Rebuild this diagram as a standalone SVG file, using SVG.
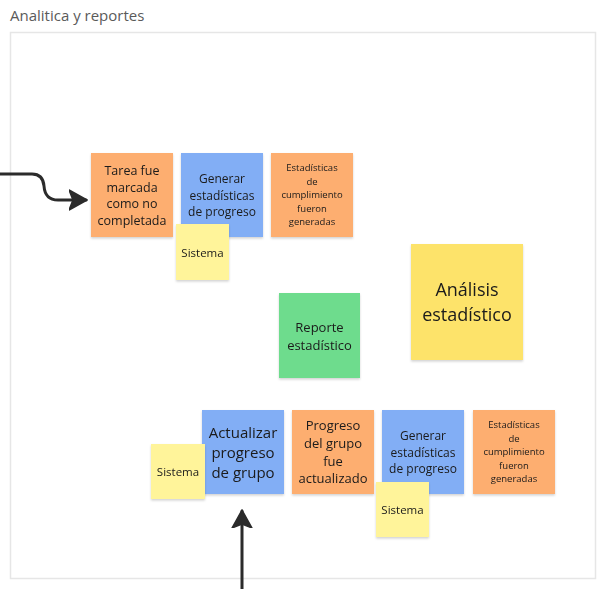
<svg xmlns="http://www.w3.org/2000/svg" width="608" height="589" viewBox="0 0 608 589">
<defs>
<filter id="sh" x="-10%" y="-10%" width="120%" height="125%">
<feDropShadow dx="0" dy="1.5" stdDeviation="1.2" flood-color="#000" flood-opacity="0.18"/>
</filter>
<marker id="ah" viewBox="0 0 20 22" refX="17" refY="11" markerWidth="20" markerHeight="22" orient="auto" markerUnits="userSpaceOnUse">
<path d="M0,1 L18,11 L0,21 L4,11 Z" fill="#2b2b2b" stroke="#2b2b2b" stroke-width="1.5" stroke-linejoin="round"/>
</marker>
<style>
text{font-family:"Open Sans","Noto Sans","Liberation Sans",sans-serif;fill:#1a1a1a;text-anchor:middle;dominant-baseline:central}
.or{fill:#FDAE70}
.bl{fill:#82AEF5}
.ys{fill:#FFF49A}
.yb{fill:#FDE36A}
.gr{fill:#6EDC8D}
.n{filter:url(#sh)}
.conn path{fill:none;stroke:#2b2b2b;stroke-width:3;stroke-linecap:round}
</style>
</defs>
<rect x="0" y="0" width="608" height="589" fill="#fff"/>
<text x="10" y="15" style="text-anchor:start;font-size:15px;fill:#5a5a5a">Analitica y reportes</text>
<rect x="10.5" y="32.5" width="585" height="546" fill="#fff" stroke="#e6e6e6" stroke-width="1.5"/>

<g id="n1" class="n"><rect class="or" x="91" y="153" width="82" height="84"/>
<text font-size="12.5"><tspan x="132" y="170">Tarea fue</tspan><tspan x="132" y="186.5">marcada</tspan><tspan x="132" y="203">como no</tspan><tspan x="132" y="219.5">completada</tspan></text></g>

<g id="n2" class="n"><rect class="bl" x="181" y="153" width="82" height="84"/>
<text font-size="12"><tspan x="222" y="178">Generar</tspan><tspan x="222" y="194.5">estadísticas</tspan><tspan x="222" y="211">de progreso</tspan></text></g>

<g id="n3" class="n"><rect class="or" x="271" y="153" width="82" height="84"/>
<text font-size="9.5"><tspan x="312" y="167">Estadísticas</tspan><tspan x="312" y="180.5">de</tspan><tspan x="312" y="194">cumplimiento</tspan><tspan x="312" y="207.5">fueron</tspan><tspan x="312" y="221">generadas</tspan></text></g>

<g id="n4" class="n"><rect class="ys" x="176" y="224" width="53" height="56"/>
<text x="202.5" y="252" font-size="11.5">Sistema</text></g>

<g id="n5" class="n"><rect class="gr" x="279" y="293" width="81" height="85"/>
<text font-size="13"><tspan x="319.5" y="327">Reporte</tspan><tspan x="319.5" y="344.5">estadístico</tspan></text></g>

<g id="n6" class="n"><rect class="yb" x="411" y="244" width="112" height="116"/>
<text font-size="18"><tspan x="467" y="289">Análisis</tspan><tspan x="467" y="314">estadístico</tspan></text></g>

<g id="n7" class="n"><rect class="bl" x="202" y="410" width="82" height="84"/>
<text font-size="15"><tspan x="243" y="432">Actualizar</tspan><tspan x="243" y="452">progreso</tspan><tspan x="243" y="472">de grupo</tspan></text></g>

<g id="n8" class="n"><rect class="or" x="292" y="410" width="82" height="84"/>
<text font-size="13"><tspan x="333" y="425">Progreso</tspan><tspan x="333" y="443">del grupo</tspan><tspan x="333" y="460.5">fue</tspan><tspan x="333" y="478">actualizado</tspan></text></g>

<g id="n9" class="n"><rect class="bl" x="382" y="410" width="82" height="84"/>
<text font-size="12"><tspan x="423" y="435">Generar</tspan><tspan x="423" y="451.5">estadísticas</tspan><tspan x="423" y="468">de progreso</tspan></text></g>

<g id="n10" class="n"><rect class="or" x="473" y="410" width="82" height="84"/>
<text font-size="9.5"><tspan x="514" y="424">Estadísticas</tspan><tspan x="514" y="437.5">de</tspan><tspan x="514" y="451">cumplimiento</tspan><tspan x="514" y="464.5">fueron</tspan><tspan x="514" y="478">generadas</tspan></text></g>

<g id="n11" class="n"><rect class="ys" x="151" y="444" width="54" height="55"/>
<text x="178" y="471.5" font-size="11.5">Sistema</text></g>

<g id="n12" class="n"><rect class="ys" x="376" y="482" width="53" height="55"/>
<text x="402.5" y="509" font-size="11.5">Sistema</text></g>

<g id="connectors" class="conn">
<path d="M-2,174 H32 Q43,174 44,186 Q45,200 58,200 H86" marker-end="url(#ah)"/>
<path d="M242,592 V511" marker-end="url(#ah)"/>
</g>
</svg>
